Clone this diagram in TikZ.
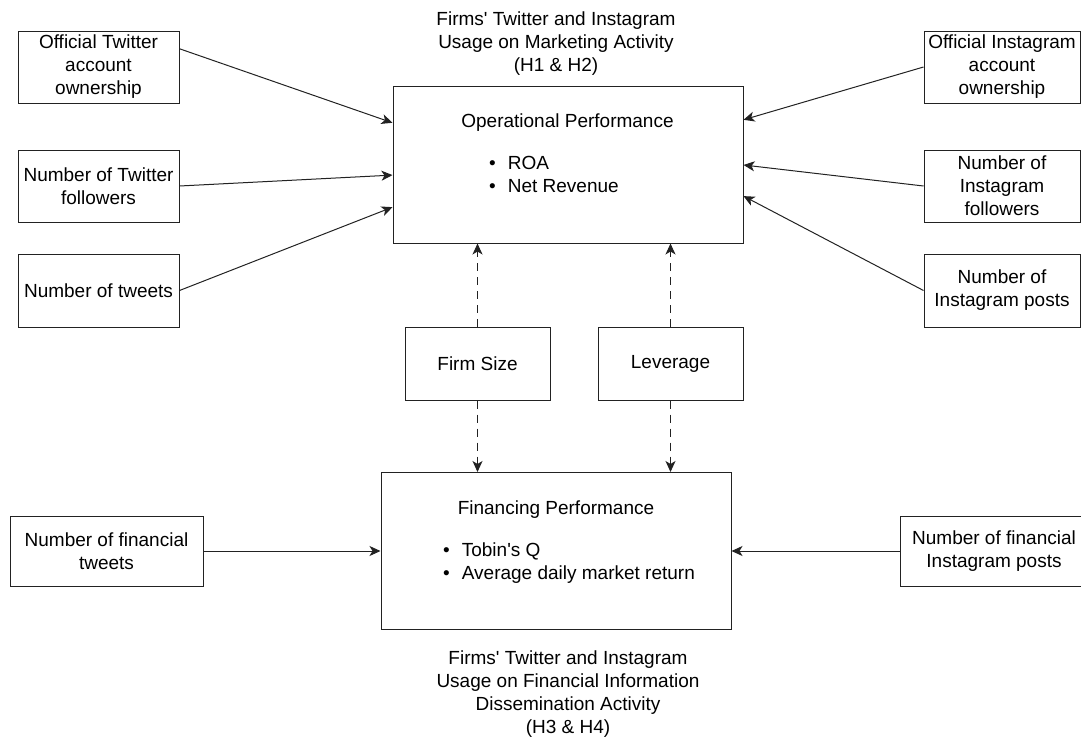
\documentclass[tikz,border=0pt]{standalone}
\usepackage{fontspec}
\setmainfont{Liberation Sans}
\usepackage{tikz}
\usetikzlibrary{arrows.meta,positioning,calc}
\definecolor{edge}{HTML}{222222}

\begin{document}
\begin{tikzpicture}[x=1pt,y=-1pt,font=\fontsize{19}{23}\selectfont, box/.style={draw=edge,line width=1pt,align=center,inner sep=2pt,minimum width=161pt,minimum height=72pt}, bigbox/.style={draw=edge,line width=1pt,minimum width=350pt,minimum height=157pt}, list/.style={anchor=north west,inner sep=0pt,align=left}, arr/.style={->,draw=edge,line width=1pt}, dasharr/.style={arr,dash pattern=on 8pt off 6pt}, >={Stealth[length=11pt,width=10pt,inset=3pt]}]
\useasboundingbox (0,0) rectangle (1081,742);
\node[box] (tw1) at (98.5,67) {Official Twitter\\account\\ownership};
\node[box] (tw2) at (98.5,186) {Number of Twitter\\followers};
\node[box,minimum height=73pt] (tw3) at (98.5,290.5) {Number of tweets};
\node[box,minimum width=156pt] (ig1) at (1002,67) {Official Instagram\\account\\ownership};
\node[box,minimum width=156pt] (ig2) at (1002,186) {Number of\\Instagram\\followers};
\node[box,minimum width=156pt,minimum height=73pt] (ig3) at (1002,290.5) {Number of\\Instagram posts};
\node[box,minimum width=193pt,minimum height=70pt] (ftw) at (106.5,551) {Number of financial\\tweets};
\node[box,minimum width=188pt,minimum height=70pt] (fig) at (994,551) {Number of financial\\Instagram posts};
\node[box,minimum width=145pt,minimum height=73pt] (size) at (477.5,363.5) {Firm Size};
\node[box,minimum width=145pt,minimum height=73pt] (lev) at (670.5,363.5) {Leverage};
\node[bigbox] (op) at (568,164.5) {};
\node[bigbox] (fin) at (556,551) {};
\node[anchor=base] (opT) at (567.5,127) {Operational Performance};
\node[list] (opL) at (489,156) {\textbullet\hspace{12pt}ROA\\\textbullet\hspace{12pt}Net Revenue};
\node[anchor=base] (finT) at (556,514) {Financing Performance};
\node[list] (finL) at (443,543) {\textbullet\hspace{12pt}Tobin\textquotesingle s Q\\\textbullet\hspace{12pt}Average daily market return};
\node[align=center] (topT) at (556,43.5) {Firms\textquotesingle{} Twitter and Instagram\\Usage on Marketing Activity\\(H1 \& H2)};
\node[align=center] (botT) at (568,694) {Firms\textquotesingle{} Twitter and Instagram\\Usage on Financial Information\\Dissemination Activity\\(H3 \& H4)};
\draw[arr] ($(tw1.north east)!0.25!(tw1.south east)$) -- ($(op.north west)!0.236!(op.south west)$);
\draw[arr] (tw2.east) -- ($(op.north west)!0.567!(op.south west)$);
\draw[arr] (tw3.east) -- ($(op.north west)!0.77!(op.south west)$);
\draw[arr] (ig1.west) -- ($(op.north east)!0.217!(op.south east)$);
\draw[arr] (ig2.west) -- ($(op.north east)!0.503!(op.south east)$);
\draw[arr] (ig3.west) -- ($(op.north east)!0.70!(op.south east)$);
\draw[dasharr] (size.north) -- (size.north |- op.south); \draw[dasharr] (size.south) -- (size.south |- fin.north);
\draw[dasharr] (lev.north) -- (lev.north |- op.south); \draw[dasharr] (lev.south) -- (lev.south |- fin.north);
\draw[arr] (ftw.east) -- (fin.west); \draw[arr] (fig.west) -- (fin.east);
\end{tikzpicture}
\end{document}
